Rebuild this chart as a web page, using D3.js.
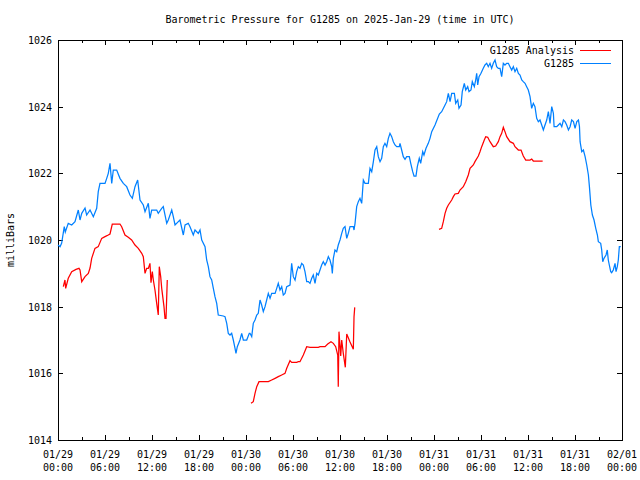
<!DOCTYPE html>
<html>
<head>
<meta charset="utf-8">
<script src="https://cdn.jsdelivr.net/npm/d3@7"></script>
<style>
  html, body { margin: 0; padding: 0; background: #fff; }
  svg { display: block; }
  text { font-family: "DejaVu Sans Mono", "Liberation Mono", monospace; font-size: 10px; fill: #000; }
</style>
</head>
<body>
<div id="chart"></div>
<script>
// ---------- DATA ----------
const titleText = "Barometric Pressure for G1285 on 2025-Jan-29 (time in UTC)";
const yLabel = "milliBars";
const startTime = Date.UTC(2025, 0, 29, 0, 0);
const endTime = Date.UTC(2025, 1, 1, 0, 0);
const yTicks = [1014, 1016, 1018, 1020, 1022, 1024, 1026];
const seriesNames = ["G1285 Analysis", "G1285"];
const seriesColors = ["#ff0000", "#0080ff"];

// station observations: [hours since 2025-01-29 00:00 UTC, pressure mb]
const stationObs = [
[0,1019.85],[0.26,1019.80],[0.47,1019.91],[0.80,1020.40],[0.93,1020.24],[1.31,1020.50],[1.75,1020.45],[2.17,1020.55],
[2.59,1020.90],[2.81,1020.60],[3.03,1020.80],[3.45,1020.96],[3.66,1020.75],[4.09,1020.90],[4.51,1020.70],[4.94,1020.95],
[5.14,1021.45],[5.36,1021.70],[6.00,1021.70],[6.22,1021.85],[6.42,1022.00],[6.64,1022.30],[6.86,1021.70],[7.06,1022.10],
[7.49,1022.10],[7.91,1021.85],[8.34,1021.70],[8.77,1021.60],[9.19,1021.35],[9.49,1021.25],[9.83,1021.60],[10.17,1021.80],
[10.47,1021.20],[10.89,1021.05],[11.11,1020.85],[11.53,1021.10],[11.74,1020.65],[11.96,1020.90],[12.29,1020.90],
[12.60,1020.90],[12.80,1020.80],[13.24,1020.95],[13.44,1021.00],[13.88,1020.50],[14.08,1020.60],[14.52,1020.90],
[14.72,1020.70],[14.94,1020.45],[15.36,1020.55],[15.57,1020.60],[16.00,1020.15],[16.22,1020.45],[16.63,1020.50],
[16.85,1020.40],[17.27,1020.15],[17.49,1020.30],[17.91,1020.20],[18.13,1020.30],[18.35,1020.00],[18.77,1019.80],
[18.98,1019.40],[19.19,1019.20],[19.40,1018.90],[19.62,1018.80],[19.83,1018.55],[20.04,1018.30],[20.26,1018.10],
[20.46,1017.75],[21.10,1017.72],[21.32,1017.70],[21.54,1017.50],[21.74,1017.20],[21.96,1017.15],[22.17,1017.20],
[22.38,1017.00],[22.60,1016.75],[22.72,1016.60],[22.89,1016.80],[23.23,1017.00],[23.45,1017.20],[23.66,1017.00],
[24.09,1017.00],[24.42,1017.20],[24.51,1017.20],[24.73,1017.10],[24.93,1017.50],[25.15,1017.60],[25.37,1017.75],
[25.57,1017.80],[25.79,1018.20],[26.00,1018.05],[26.21,1017.85],[26.43,1018.00],[26.64,1018.20],[26.85,1018.40],
[27.07,1018.25],[27.28,1018.40],[27.71,1018.40],[27.92,1018.55],[28.12,1018.70],[28.34,1018.50],[28.56,1018.60],
[28.76,1018.35],[28.98,1018.40],[29.20,1018.60],[29.62,1018.65],[29.83,1019.30],[30.04,1018.90],[30.26,1018.80],
[30.47,1019.05],[30.68,1019.20],[30.89,1019.15],[31.11,1019.30],[31.32,1019.25],[31.53,1019.05],[31.75,1018.75],
[31.96,1018.75],[32.17,1018.70],[32.39,1018.85],[32.59,1018.95],[32.81,1018.70],[33.03,1019.00],[33.23,1018.95],
[33.66,1019.25],[33.87,1019.35],[34.09,1019.25],[34.30,1019.35],[34.51,1019.50],[34.72,1019.40],[34.94,1019.20],
[35.02,1019.00],[35.15,1019.45],[35.36,1019.70],[35.58,1019.65],[35.78,1019.85],[36.00,1020.00],[36.22,1020.20],
[36.42,1020.35],[36.64,1020.40],[36.86,1020.05],[37.06,1020.20],[37.28,1020.40],[37.70,1020.40],[37.79,1020.30],
[37.92,1020.50],[38.13,1021.00],[38.34,1021.15],[38.55,1021.25],[38.77,1021.10],[38.98,1021.80],[39.19,1021.70],
[39.62,1021.70],[39.83,1022.15],[40.05,1022.05],[40.26,1022.35],[40.47,1022.70],[40.69,1022.80],[40.89,1022.50],
[41.11,1022.35],[41.32,1022.45],[41.53,1022.80],[41.74,1022.90],[41.96,1022.80],[42.17,1023.05],[42.38,1023.20],
[42.60,1023.10],[42.81,1022.95],[43.02,1022.85],[43.24,1022.80],[43.57,1022.80],[43.66,1022.90],[43.87,1022.70],
[44.08,1022.50],[44.30,1022.42],[44.51,1022.50],[44.85,1022.50],[45.03,1022.30],[45.28,1022.05],[45.45,1021.92],
[45.70,1021.92],[45.87,1022.20],[46.12,1022.45],[46.30,1022.30],[46.56,1022.65],[46.72,1022.55],[46.98,1022.75],
[47.27,1022.90],[47.49,1023.05],[47.71,1023.25],[48.13,1023.45],[48.68,1023.78],[48.98,1023.85],[49.41,1024.05],
[49.62,1024.15],[49.83,1024.40],[50.05,1024.15],[50.26,1024.40],[50.60,1024.40],[50.77,1024.10],[51.03,1024.20],
[51.19,1023.95],[51.45,1024.05],[51.61,1024.45],[51.87,1024.70],[52.05,1024.50],[52.30,1024.60],[52.47,1024.45],
[52.72,1024.50],[52.89,1024.75],[53.15,1024.60],[53.32,1024.80],[53.45,1025.00],[53.58,1024.65],[53.75,1024.90],
[54.00,1025.00],[54.29,1025.15],[54.51,1025.25],[54.73,1025.30],[54.93,1025.20],[55.15,1025.30],[55.36,1025.15],
[55.57,1025.30],[55.79,1025.40],[56.00,1025.20],[56.21,1025.15],[56.43,1025.15],[56.64,1024.90],[56.85,1025.30],
[57.06,1025.25],[57.28,1025.30],[57.49,1025.30],[57.70,1025.20],[57.92,1025.10],[58.13,1025.20],[58.34,1025.05],
[58.56,1025.15],[58.77,1025.00],[58.98,1024.95],[59.20,1024.80],[59.40,1024.75],[59.62,1024.70],[59.83,1024.60],
[60.04,1024.50],[60.26,1024.30],[60.47,1023.95],[60.68,1024.10],[60.89,1024.00],[61.11,1023.65],[61.32,1023.55],
[61.53,1023.60],[61.75,1023.45],[61.96,1023.30],[62.17,1023.45],[62.39,1023.60],[62.60,1023.85],[62.81,1023.50],
[63.03,1024.00],[63.24,1023.80],[63.33,1023.40],[63.67,1023.40],[63.88,1023.45],[64.09,1023.50],[64.31,1023.40],
[64.52,1023.60],[64.73,1023.55],[64.94,1023.45],[65.16,1023.30],[65.37,1023.40],[65.58,1023.60],[65.80,1023.55],
[66.01,1023.35],[66.23,1023.55],[66.44,1023.60],[66.57,1023.40],[66.65,1022.95],[66.86,1022.65],[67.07,1022.70],
[67.29,1022.50],[67.50,1022.25],[67.71,1021.95],[67.84,1021.60],[68.02,1021.05],[68.22,1020.75],[68.43,1020.60],
[68.65,1020.35],[68.86,1020.15],[68.98,1019.95],[69.28,1019.90],[69.41,1019.70],[69.54,1019.35],[69.70,1019.45],
[69.96,1019.55],[70.12,1019.70],[70.25,1019.40],[70.38,1019.25],[70.56,1019.05],[70.68,1019.02],[70.89,1019.10],
[71.11,1019.30],[71.24,1019.05],[71.40,1019.20],[71.53,1019.40],[71.66,1019.80],[71.84,1019.80]
];

// analysis values (null = gap between analysis runs)
const analysisObs = [
[0.68,1018.60],[0.89,1018.80],[0.98,1018.55],[1.31,1018.85],[1.75,1019.05],[2.30,1019.12],[2.68,1019.15],[2.81,1019.10],
[3.03,1018.75],[3.45,1018.90],[3.87,1019.00],[4.09,1019.16],[4.30,1019.45],[4.72,1019.75],[5.14,1019.80],[5.58,1020.05],
[6.00,1020.10],[6.42,1020.15],[6.64,1020.18],[6.93,1020.48],[7.91,1020.48],[8.13,1020.40],[8.55,1020.15],[8.97,1020.08],
[9.40,1020.00],[9.83,1019.85],[10.25,1019.75],[10.69,1019.60],[10.89,1019.50],[11.11,1019.00],[11.32,1019.15],
[11.53,1019.15],[11.74,1019.30],[11.87,1018.72],[12.04,1019.05],[12.17,1018.80],[12.38,1018.50],[12.60,1018.10],
[12.80,1017.75],[12.93,1019.20],[13.11,1018.90],[13.24,1018.55],[13.53,1018.00],[13.66,1017.65],[13.79,1017.65],
[13.95,1018.80],
null,
[24.64,1015.10],[24.93,1015.15],[25.15,1015.40],[25.37,1015.60],[25.66,1015.75],[26.85,1015.75],[27.28,1015.80],
[27.71,1015.85],[28.12,1015.90],[28.56,1015.95],[28.98,1016.00],[29.20,1016.15],[29.62,1016.38],[29.83,1016.33],
[30.47,1016.33],[30.68,1016.35],[30.89,1016.35],[31.32,1016.55],[31.75,1016.80],[32.17,1016.78],[33.23,1016.78],
[33.45,1016.80],[34.09,1016.80],[34.43,1016.88],[34.85,1016.95],[35.15,1016.90],[35.45,1016.80],[35.71,1016.55],
[35.78,1015.60],[35.87,1017.25],[36.09,1016.52],[36.22,1017.00],[36.42,1016.60],[36.68,1016.18],[36.86,1017.18],
[37.28,1016.94],[37.70,1016.72],[37.79,1017.70],[37.88,1017.98],
null,
[48.64,1020.32],[48.98,1020.35],[49.19,1020.55],[49.41,1020.80],[49.62,1020.95],[49.83,1021.05],[50.26,1021.20],
[50.47,1021.30],[50.68,1021.38],[51.10,1021.40],[51.32,1021.50],[51.74,1021.60],[52.05,1021.75],[52.38,1021.95],
[52.60,1022.15],[53.02,1022.25],[53.23,1022.35],[53.66,1022.52],[53.87,1022.65],[54.09,1022.80],[54.42,1023.00],
[54.60,1023.10],[54.86,1023.08],[55.15,1022.95],[55.57,1022.80],[55.87,1022.82],[56.21,1022.95],[56.43,1023.10],
[56.64,1023.20],[56.85,1023.38],[57.06,1023.25],[57.28,1023.10],[57.70,1022.95],[58.13,1022.90],[58.34,1022.80],
[58.77,1022.70],[59.11,1022.70],[59.40,1022.52],[59.71,1022.40],[60.26,1022.40],[60.47,1022.43],[60.68,1022.37],
[61.87,1022.37]
];

// ---------- CHART ----------
const W = 640, H = 480;
const margin = { left: 58, right: 18, top: 40, bottom: 40 };
const iw = W - margin.left - margin.right;
const ih = H - margin.top - margin.bottom;
const HOUR = 3600 * 1000;

const svg = d3.select("#chart").append("svg").attr("width", W).attr("height", H);

const x = d3.scaleUtc().domain([new Date(startTime), new Date(endTime)]).range([margin.left, margin.left + iw]);
const y = d3.scaleLinear().domain([1014, 1026]).range([margin.top + ih, margin.top]);

const toDate = h => new Date(startTime + h * HOUR);

const majorTimes = d3.range(0, 73, 6).map(toDate);
const minorTimes = d3.range(3, 72, 6).map(toDate);
const fmtDay = d3.utcFormat("%m/%d");
const fmtTime = d3.utcFormat("%H:%M");

// Title
svg.append("text").attr("x", 340).attr("y", 23).attr("text-anchor", "middle").text(titleText);

// Y label
svg.append("text").attr("transform", "translate(14," + (margin.top + ih / 2) + ") rotate(-90)")
  .attr("text-anchor", "middle").text(yLabel);

const axisG = svg.append("g").attr("shape-rendering", "crispEdges");

// bottom axis (ticks inward)
axisG.append("g").attr("transform", `translate(0,${margin.top + ih})`)
  .call(d3.axisBottom(x).tickValues(majorTimes).tickSizeInner(-5).tickSizeOuter(0).tickFormat(""))
  .select(".domain").remove();
axisG.append("g").attr("transform", `translate(0,${margin.top + ih})`)
  .call(d3.axisBottom(x).tickValues(minorTimes).tickSizeInner(-3).tickSizeOuter(0).tickFormat(""))
  .select(".domain").remove();
// top axis mirror
axisG.append("g").attr("transform", `translate(0,${margin.top})`)
  .call(d3.axisTop(x).tickValues(majorTimes).tickSizeInner(-5).tickSizeOuter(0).tickFormat(""))
  .select(".domain").remove();
axisG.append("g").attr("transform", `translate(0,${margin.top})`)
  .call(d3.axisTop(x).tickValues(minorTimes).tickSizeInner(-3).tickSizeOuter(0).tickFormat(""))
  .select(".domain").remove();
// left and right
axisG.append("g").attr("transform", `translate(${margin.left},0)`)
  .call(d3.axisLeft(y).tickValues(yTicks).tickSizeInner(-5).tickSizeOuter(0).tickFormat(""))
  .select(".domain").remove();
axisG.append("g").attr("transform", `translate(${margin.left + iw},0)`)
  .call(d3.axisRight(y).tickValues(yTicks).tickSizeInner(-5).tickSizeOuter(0).tickFormat(""))
  .select(".domain").remove();
axisG.selectAll("line").attr("stroke", "#000");

// tick labels
svg.append("g").selectAll("text").data(yTicks).join("text")
  .attr("x", margin.left - 6).attr("y", d => y(d) + 4).attr("text-anchor", "end").text(d => d);
const xl = svg.append("g").selectAll("text").data(majorTimes).join("text")
  .attr("x", d => x(d)).attr("text-anchor", "middle");
xl.append("tspan").attr("x", d => x(d)).attr("y", margin.top + ih + 18).text(d => fmtDay(d));
xl.append("tspan").attr("x", d => x(d)).attr("y", margin.top + ih + 31).text(d => fmtTime(d));

// lines
const line = d3.line()
  .defined(d => d !== null)
  .x(d => x(toDate(d[0])))
  .y(d => y(d[1]));

svg.append("path").datum(analysisObs).attr("d", line)
  .attr("fill", "none").attr("stroke", seriesColors[0]).attr("stroke-width", 1.25);
svg.append("path").datum(stationObs).attr("d", line)
  .attr("fill", "none").attr("stroke", seriesColors[1]).attr("stroke-width", 1.25);

// border
axisG.append("rect").attr("x", margin.left).attr("y", margin.top).attr("width", iw).attr("height", ih)
  .attr("fill", "none").attr("stroke", "#000");

// legend
const legend = svg.append("g");
seriesNames.forEach((name, i) => {
  const ly = 50 + i * 13;
  legend.append("text").attr("x", 574).attr("y", ly + 4).attr("text-anchor", "end").text(name);
  legend.append("line").attr("x1", 580).attr("x2", 611).attr("y1", ly).attr("y2", ly)
    .attr("stroke", seriesColors[i]).attr("stroke-width", 1).attr("shape-rendering", "crispEdges");
});
</script>
</body>
</html>
